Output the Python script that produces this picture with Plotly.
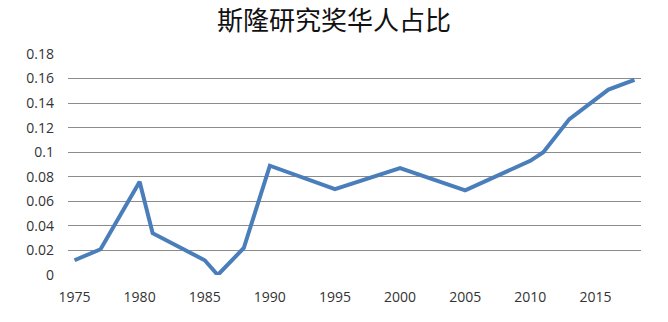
import plotly.graph_objects as go

years = [1975, 1977, 1980, 1981, 1985, 1986, 1988, 1990, 1995, 2000, 2005, 2010, 2011, 2013, 2016, 2018]
share = [0.012, 0.021, 0.076, 0.034, 0.012, 0.0, 0.022, 0.089, 0.070, 0.087, 0.069, 0.093, 0.100, 0.127, 0.151, 0.159]

x_ticks = [1975, 1980, 1985, 1990, 1995, 2000, 2005, 2010, 2015]
y_ticks = [0, 0.02, 0.04, 0.06, 0.08, 0.1, 0.12, 0.14, 0.16, 0.18]
y_ticktext = ["0", "0.02", "0.04", "0.06", "0.08", "0.1", "0.12", "0.14", "0.16", "0.18"]

fig = go.Figure()
fig.add_trace(go.Scatter(x=years, y=share, mode="lines",
                         line=dict(color="#4A7EBB", width=4), showlegend=False))

fig.update_layout(
    width=668, height=322,
    margin=dict(l=68, r=27, t=54, b=47),
    paper_bgcolor="white", plot_bgcolor="white",
    title=dict(text="斯隆研究奖华人占比", x=0.5, xanchor="center", y=0.935, yanchor="middle",
               font=dict(family="Noto Sans CJK SC", size=26, color="#111")),
    font=dict(family="Open Sans", size=14, color="#333"),
    xaxis=dict(range=[1974.5, 2018.5], tickvals=x_ticks, showgrid=False, zeroline=False,
               showline=False, ticks="", ticklabelstandoff=12),
    yaxis=dict(range=[0, 0.18], tickvals=y_ticks, ticktext=y_ticktext, showgrid=True,
               gridcolor="#8c8c8c", gridwidth=1, zeroline=False, showline=False,
               ticks="", ticklabelstandoff=13),
)

fig.write_html("out.html")
